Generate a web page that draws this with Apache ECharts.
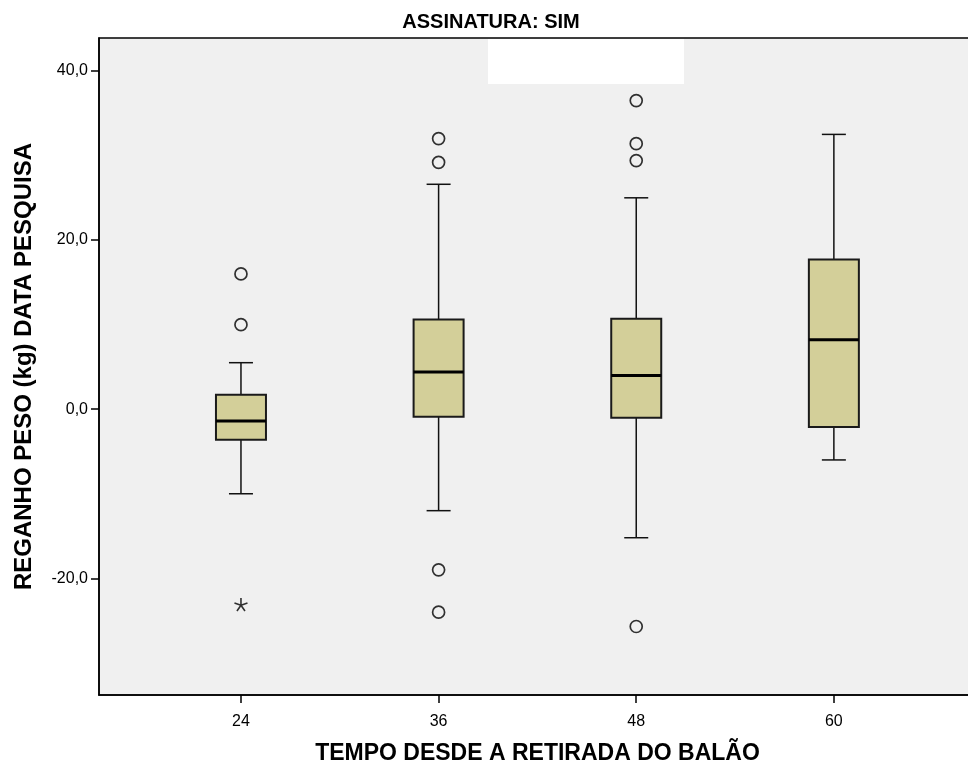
<!DOCTYPE html>
<html><head><meta charset="utf-8">
<script src="https://cdn.jsdelivr.net/npm/echarts@6/dist/echarts.min.js"></script>
<style>html,body{margin:0;padding:0;background:#fff}#c{width:968px;height:769px}</style>
</head><body><div id="c"></div>
<script>
const categories = [24, 36, 48, 60];
const whiskerLow = [-10.0, -12.0, -15.2, -6.0];
const q1 = [-3.6, -0.9, -1.0, -2.1];
const medians = [-1.4, 4.4, 4.0, 8.2];
const q3 = [1.7, 10.6, 10.7, 17.7];
const whiskerHigh = [5.5, 26.6, 25.0, 32.5];
const outliers24 = [16.0, 10.0];
const outliers36 = [32.0, 29.2, -19.0, -24.0];
const outliers48 = [36.5, 31.4, 29.4, -25.7];
const outliers60 = [];
const extremes24 = [-23.1];
const yTicks = [-20, 0, 20, 40];
const xTitle = 'TEMPO DESDE A RETIRADA DO BALÃO';
const yTitle = 'REGANHO PESO (kg) DATA PESQUISA';
const chartTitle = 'ASSINATURA: SIM';

const boxData = categories.map((c, i) => [c, whiskerLow[i], q1[i], medians[i], q3[i], whiskerHigh[i]]);
const outlierGroups = [outliers24, outliers36, outliers48, outliers60];
const outlierData = [];
outlierGroups.forEach((g, i) => g.forEach(v => outlierData.push([categories[i], v])));
const extremeData = extremes24.map(v => [categories[0], v]);

const FONT = 'Liberation Sans, Arial, sans-serif';
const chart = echarts.init(document.getElementById('c'));

function renderBox(params, api) {
  const x = api.value(0);
  const lo = api.coord([x, api.value(1)]);
  const b1 = api.coord([x, api.value(2)]);
  const md = api.coord([x, api.value(3)]);
  const b3 = api.coord([x, api.value(4)]);
  const hi = api.coord([x, api.value(5)]);
  const cx = lo[0];
  const hw = 25, cw = 12;
  const ls = {stroke: '#111', lineWidth: 1.5};
  return {
    type: 'group',
    children: [
      {type: 'line', shape: {x1: cx, y1: hi[1], x2: cx, y2: b3[1]}, style: ls},
      {type: 'line', shape: {x1: cx, y1: b1[1], x2: cx, y2: lo[1]}, style: ls},
      {type: 'line', shape: {x1: cx - cw, y1: hi[1], x2: cx + cw, y2: hi[1]}, style: ls},
      {type: 'line', shape: {x1: cx - cw, y1: lo[1], x2: cx + cw, y2: lo[1]}, style: ls},
      {type: 'rect', shape: {x: cx - hw, y: b3[1], width: 2 * hw, height: b1[1] - b3[1]},
        style: {fill: '#D3CF99', stroke: '#1a1a1a', lineWidth: 2}},
      {type: 'line', shape: {x1: cx - hw, y1: md[1], x2: cx + hw, y2: md[1]}, style: {stroke: '#000', lineWidth: 3}}
    ]
  };
}

const option = {
  animation: false,
  backgroundColor: '#fff',
  title: {
    text: chartTitle, left: 486, top: 7, textAlign: 'center',
    textStyle: {fontFamily: FONT, fontSize: 20, fontWeight: 'bold', color: '#000'}
  },
  grid: {
    left: 99, top: 38, right: -8, bottom: 74, show: true, outerBoundsMode: 'none', containLabel: false,
    backgroundColor: '#F0F0F0', borderColor: '#000', borderWidth: 1.5
  },
  xAxis: {
    type: 'value', min: 15.38, max: 68.63,
    name: xTitle, nameLocation: 'middle', nameGap: 47,
    nameTextStyle: {fontFamily: FONT, fontSize: 23, fontWeight: 'bold', color: '#000'},
    axisLine: {show: true, onZero: false, lineStyle: {color: '#000', width: 1.5}},
    axisTick: {show: true, length: 8, customValues: categories, lineStyle: {color: '#000', width: 1.5}},
    axisLabel: {customValues: categories, margin: 19, fontFamily: FONT, fontSize: 16, color: '#000'},
    splitLine: {show: false}
  },
  yAxis: {
    type: 'value', min: -33.8, max: 43.9,
    name: yTitle, nameLocation: 'middle', nameGap: 63, nameRotate: 90,
    nameTextStyle: {fontFamily: FONT, fontSize: 24, fontWeight: 'bold', color: '#000'},
    axisLine: {show: true, onZero: false, lineStyle: {color: '#000', width: 1.5}},
    axisTick: {show: true, length: 8, customValues: yTicks, lineStyle: {color: '#000', width: 1.5}},
    axisLabel: {customValues: yTicks, margin: 11, fontFamily: FONT, fontSize: 16, color: '#000',
      formatter: v => v.toFixed(1).replace('.', ',')},
    splitLine: {show: false}
  },
  graphic: [{
    type: 'rect', z: 100, shape: {x: 488, y: 39, width: 196, height: 45}, style: {fill: '#fff'}
  }],
  series: [
    {type: 'custom', renderItem: renderBox, data: boxData, encode: {x: 0, y: [1, 2, 3, 4, 5]}, z: 2},
    {type: 'scatter', data: outlierData, symbol: 'circle', symbolSize: 12, z: 3,
      itemStyle: {color: 'rgba(0,0,0,0)', borderColor: '#000', borderWidth: 1.7}},
    {type: 'scatter', data: extremeData, z: 3, symbolSize: 13,
      symbol: 'path://M5,5 L5,0 M5,5 L9.76,3.45 M5,5 L0.24,3.45 M5,5 L7.94,9.05 M5,5 L2.06,9.05',
      itemStyle: {color: 'rgba(0,0,0,0)', borderColor: '#000', borderWidth: 1.6}}
  ]
};
chart.setOption(option);
</script></body></html>
